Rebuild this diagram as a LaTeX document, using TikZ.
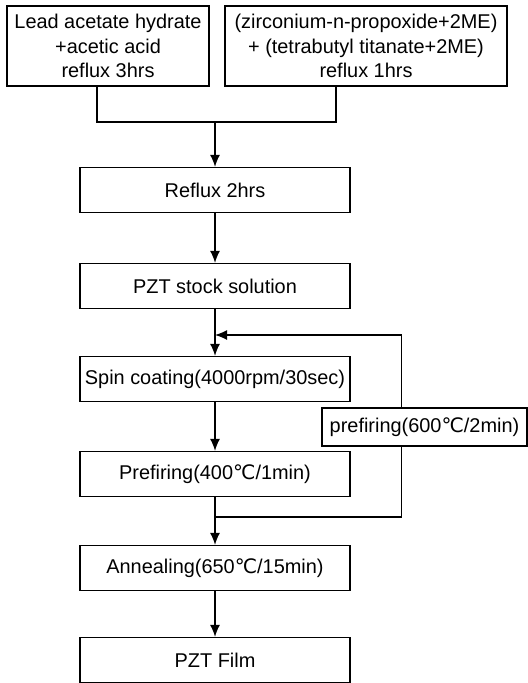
\documentclass[tikz,border=0pt]{standalone}
\usepackage{fontspec}
\setmainfont{Liberation Sans}
\newfontfamily\degfont{DejaVu Sans}
\newcommand{\degC}{{\degfont ℃}}
\usetikzlibrary{arrows.meta}
\begin{document}
\begin{tikzpicture}[x=0.03cm,y=-0.03cm,line width=1.1pt,
    font=\fontsize{17}{21}\selectfont,
    box/.style={draw,inner sep=2pt,minimum width=8.1cm,minimum height=1.35cm},
    topbox/.style={draw,inner sep=2pt,align=center,minimum height=2.4cm},
    arr/.style={-{Latex[length=3.6mm,width=3mm]}}]
    \useasboundingbox (0,0) rectangle (527,683);
    % starting solutions
    \node [topbox,minimum width=6.06cm] (lead) at (108,46) {Lead acetate hydrate\\+acetic acid\\reflux 3hrs};
    \node [topbox,minimum width=8.46cm] (zrti) at (366,46) {(zirconium-n-propoxide+2ME)\\+ (tetrabutyl titanate+2ME)\\reflux 1hrs};
    % main column
    \node [box] (reflux) at (215,190) {Reflux 2hrs};
    \node [box] (stock) at (215,286) {PZT stock solution};
    \node [box] (spin) at (215,379) {Spin coating(4000rpm/30sec)};
    \node [box] (prefire) at (215,474) {Prefiring(400\degC/1min)};
    \node [box] (anneal) at (215,568) {Annealing(650\degC/15min)};
    \node [box] (film) at (215,660) {PZT Film};
    \node [draw,inner sep=2pt,minimum width=6.15cm,minimum height=1.14cm] (refire) at (424.5,427) {prefiring(600\degC/2min)};
    % junctions
    \coordinate (join) at (215,122);
    \coordinate (fbtop) at (215,335);
    \coordinate (fbbot) at (215,517);
    \draw ([xshift=-0.33cm]lead.south) |- (join) -| ([xshift=-0.9cm]zrti.south);
    \draw [arr] (join) -- (reflux);
    \draw [arr] (reflux) -- (stock);
    \draw [arr] (stock) -- (spin);
    \draw [arr] (spin) -- (prefire);
    \draw [arr] (prefire) -- (anneal);
    \draw [arr] (anneal) -- (film);
    % repeat loop
    \draw [arr] ([xshift=-0.7cm]refire.north) |- (fbtop);
    \draw ([xshift=-0.7cm]refire.south) |- (fbbot);
\end{tikzpicture}
\end{document}
